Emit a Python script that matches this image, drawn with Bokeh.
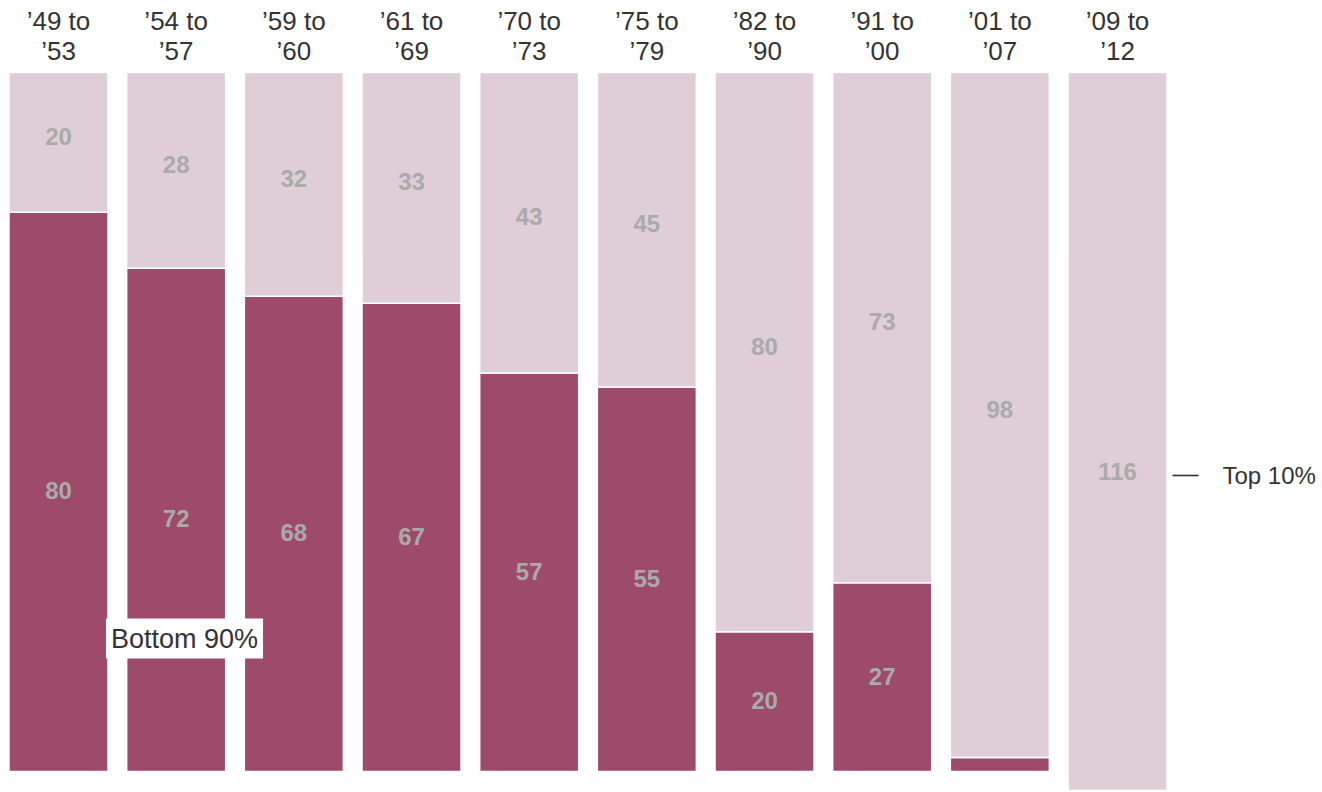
from bokeh.plotting import figure
from bokeh.models import ColumnDataSource, Label, Range1d
from bokeh.core.properties import value
from bokeh.embed import file_html
from bokeh.resources import INLINE

# Data
period_start = ["’49 to", "’54 to", "’59 to", "’61 to", "’70 to", "’75 to", "’82 to", "’91 to", "’01 to", "’09 to"]
period_end = ["’53", "’57", "’60", "’69", "’73", "’79", "’90", "’00", "’07", "’12"]
bottom90 = [80, 72, 68, 67, 57, 55, 20, 27, 2, -16]
top10 = [20, 28, 32, 33, 43, 45, 80, 73, 98, 116]

DARK = "#9e4a6a"
LIGHT = "#dfcdd7"
VAL_GREY = "#aaaaaa"
TXT = "#333333"
FONT = "Liberation Sans"

W, H = 1320, 790
PX_X = 117.67
PX_Y = 6.99
x0 = -58 / PX_X
y1 = 100 + 72 / PX_Y


def px_x(page_x):
    return (page_x - 58) / PX_X


def px_y(page_y):
    return y1 - page_y / PX_Y


p = figure(width=W, height=H, output_backend="svg", toolbar_location=None,
           x_range=Range1d(x0, x0 + W / PX_X), y_range=Range1d(y1 - H / PX_Y, y1),
           min_border=0, outline_line_color=None)
p.xaxis.visible = False
p.yaxis.visible = False
p.grid.visible = False
p.background_fill_color = "white"
p.border_fill_color = "white"

n = len(bottom90)
xs = list(range(n))
src = ColumnDataSource(dict(
    x=xs,
    b=bottom90,
    hundred=[b + t for b, t in zip(bottom90, top10)],
    zero=[0] * n,
    top_mid=[(b + b + t) / 2 for b, t in zip(bottom90, top10)],
    top_lbl=[str(t) for t in top10],
    start=period_start,
    end=period_end,
))

bw = 99 / PX_X
p.vbar(x="x", bottom="zero", top="b", width=bw, source=src,
       fill_color=DARK, line_color="white", line_width=1.5)
p.vbar(x="x", bottom="b", top="hundred", width=bw, source=src,
       fill_color=LIGHT, line_color="white", line_width=1.5)

# value labels
p.text(x="x", y="top_mid", text="top_lbl", source=src, text_align="center",
       text_baseline="middle", text_color=VAL_GREY, text_font=value(FONT),
       text_font_style="bold", text_font_size="24px", y_offset=-6)

bidx = [i for i, b in enumerate(bottom90) if b >= 10]
bsrc = ColumnDataSource(dict(
    x=[xs[i] for i in bidx],
    y=[bottom90[i] / 2 for i in bidx],
    t=[str(bottom90[i]) for i in bidx],
))
p.text(x="x", y="y", text="t", source=bsrc, text_align="center",
       text_baseline="middle", text_color=VAL_GREY, text_font=value(FONT),
       text_font_style="bold", text_font_size="24px", y_offset=-1)

# header labels
p.text(x="x", y=px_y(20), text="start", source=src, text_align="center",
       text_baseline="middle", text_color=TXT, text_font=value(FONT),
       text_font_size="26px")
p.text(x="x", y=px_y(50), text="end", source=src, text_align="center",
       text_baseline="middle", text_color=TXT, text_font=value(FONT),
       text_font_size="26px")

# Top 10% annotation
last = n - 1
ly = px_y(475)
p.line(x=[px_x(1172), px_x(1198)], y=[ly, ly], line_color=TXT, line_width=1.6)
p.add_layout(Label(x=px_x(1222), y=ly, text="Top 10%",
                   text_align="left", text_baseline="middle", text_color=TXT,
                   text_font=FONT, text_font_size="24px"))

# Bottom 90% annotation
p.add_layout(Label(x=px_x(184), y=px_y(638), text="Bottom 90%",
                   text_align="center", text_baseline="middle", text_color=TXT,
                   text_font=FONT, text_font_size="27px",
                   background_fill_color="white", padding=5))

open("out.html", "w").write(file_html(p, INLINE))
